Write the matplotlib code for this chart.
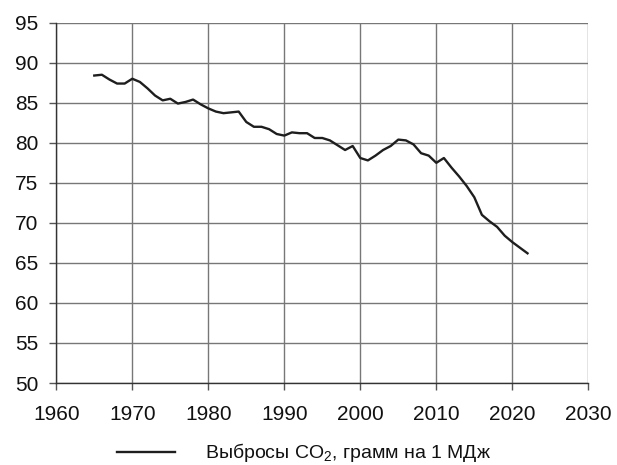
import numpy as np
import matplotlib
matplotlib.use("Agg")
import matplotlib.pyplot as plt

# ===== Data =====
years = list(range(1965, 2023))
co2_per_mj = [
    88.4, 88.5, 87.9, 87.4, 87.4, 88.0, 87.6, 86.8, 85.9, 85.3,
    85.5, 84.9, 85.1, 85.4, 84.8, 84.3, 83.9, 83.7, 83.8, 83.9,
    82.6, 82.0, 82.0, 81.7, 81.1, 80.9, 81.3, 81.2, 81.2, 80.6,
    80.6, 80.3, 79.7, 79.1, 79.6, 78.1, 77.8, 78.4, 79.1, 79.6,
    80.4, 80.3, 79.8, 78.7, 78.4, 77.5, 78.1, 76.9, 75.8, 74.6,
    73.2, 71.0, 70.2, 69.5, 68.4, 67.6, 66.9, 66.2,
]
x_ticks = list(range(1960, 2031, 10))
y_ticks = list(range(50, 96, 5))
legend_label = "Выбросы CO$_\\mathrm{2}$, грамм на 1 МДж"

plt.rcParams['font.family'] = ['Liberation Sans', 'DejaVu Sans']
plt.rcParams['mathtext.fontset'] = 'custom'
plt.rcParams['mathtext.rm'] = 'Liberation Sans'
plt.rcParams['mathtext.it'] = 'Liberation Sans'

fig = plt.figure(figsize=(6.17, 4.65), dpi=100)
ax = fig.add_axes([0.0912, 0.1763, 0.8623, 0.7749])

ax.plot(years, co2_per_mj, color='#1e1e1e', lw=1.7, label=legend_label,
        solid_joinstyle='round')

ax.set_xlim(1960, 2030)
ax.set_ylim(50, 95)
ax.set_xticks(x_ticks)
ax.set_yticks(y_ticks)
ax.tick_params(direction='out', length=5, width=1, color='#555555',
               labelsize=15, labelcolor='#111111')
ax.tick_params(axis='x', pad=11)
ax.tick_params(axis='y', pad=8)
ax.grid(True, color='#777777', lw=1)
ax.set_axisbelow(True)
for s in ['top', 'right']:
    ax.spines[s].set_visible(False)
for s in ['left', 'bottom']:
    ax.spines[s].set_color('#333333')
    ax.spines[s].set_linewidth(1)

ax.legend(loc='center', bbox_to_anchor=(0.4656, -0.194), frameon=False,
          fontsize=14, handlelength=3.0, handletextpad=1.5,
          labelcolor='#111111')

fig.savefig('out.png', dpi=100)
